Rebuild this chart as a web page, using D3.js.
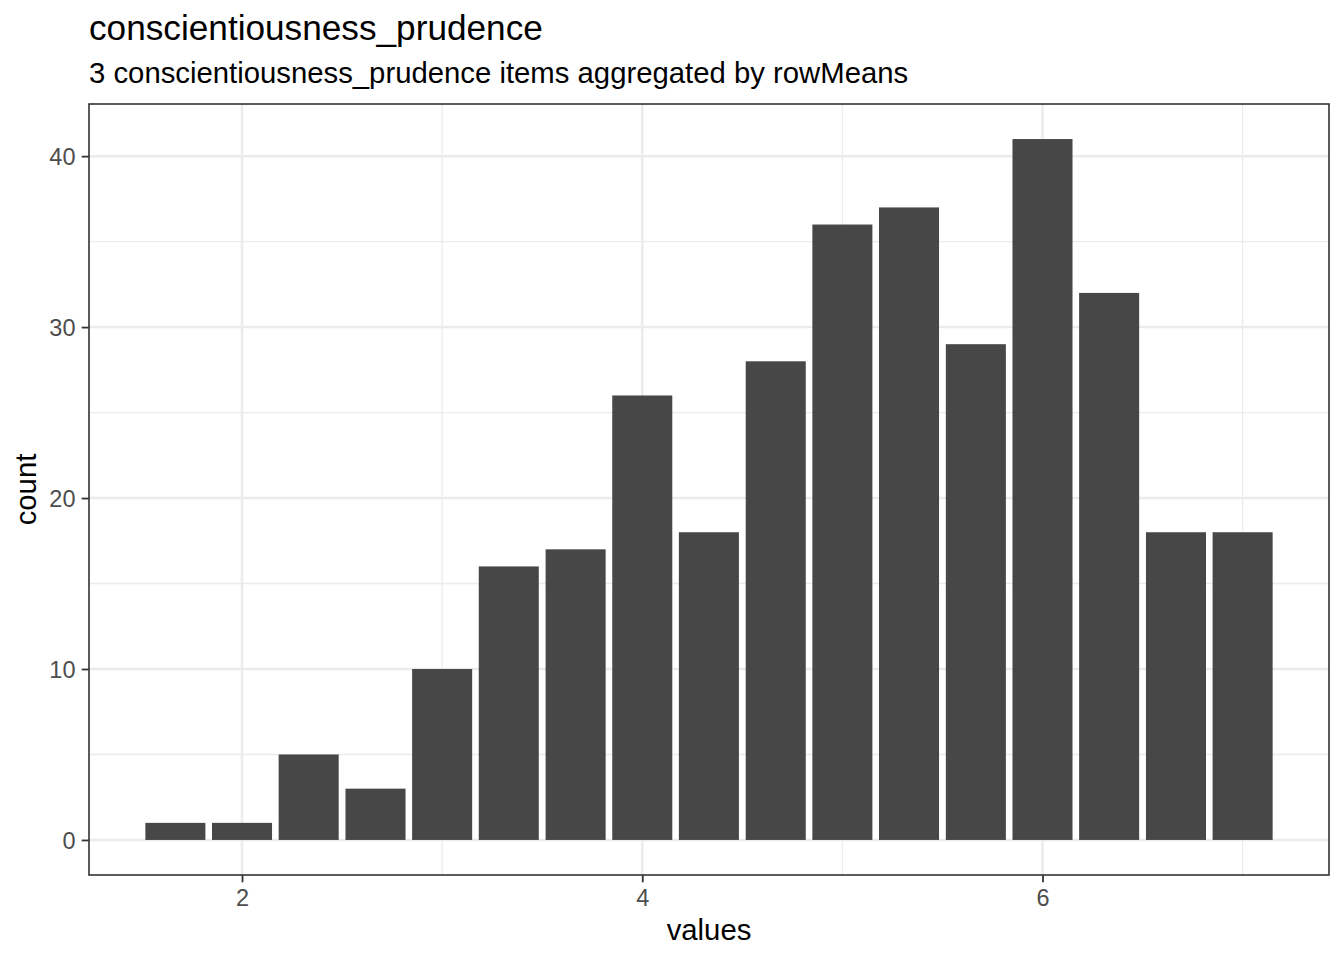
<!DOCTYPE html>
<html>
<head>
<meta charset="utf-8">
<script src="https://cdn.jsdelivr.net/npm/d3@7"></script>
<style>
  html, body { margin: 0; padding: 0; background: #ffffff; }
  svg { display: block; font-family: "Liberation Sans", Arial, Helvetica, sans-serif; }
</style>
</head>
<body>
<svg id="chart" width="1344" height="960"></svg>
<script>
// ---- data ----
const binCenters = [1.667, 2, 2.333, 2.667, 3, 3.333, 3.667, 4, 4.333, 4.667, 5, 5.333, 5.667, 6, 6.333, 6.667, 7];
const counts     = [1, 1, 5, 3, 10, 16, 17, 26, 18, 28, 36, 37, 29, 41, 32, 18, 18];
const xTicks = [2, 4, 6];
const xMinorTicks = [1, 3, 5, 7];
const yTicks = [0, 10, 20, 30, 40];
const yMinorTicks = [5, 15, 25, 35];
const titleText = "conscientiousness_prudence";
const subtitleText = "3 conscientiousness_prudence items aggregated by rowMeans";
const xLabel = "values";
const yLabel = "count";

// ---- layout ----
const W = 1344, H = 960;
const panel = { left: 89, right: 1329, top: 104, bottom: 875 };
const binWidth = 1 / 3;
const barWidth = binWidth * 0.9;

const svg = d3.select("#chart");
svg.append("rect").attr("width", W).attr("height", H).attr("fill", "#ffffff");

// scales with ggplot-like 5% expansion
const xmin = d3.min(binCenters) - barWidth / 2;
const xmax = d3.max(binCenters) + barWidth / 2;
const xr = xmax - xmin;
const x = d3.scaleLinear()
  .domain([xmin - 0.05 * xr, xmax + 0.05 * xr])
  .range([panel.left, panel.right]);

const ymax = d3.max(counts);
const y = d3.scaleLinear()
  .domain([-0.05 * ymax, ymax * 1.05])
  .range([panel.bottom, panel.top]);

const g = svg.append("g");

// panel background
g.append("rect")
  .attr("x", panel.left).attr("y", panel.top)
  .attr("width", panel.right - panel.left).attr("height", panel.bottom - panel.top)
  .attr("fill", "#ffffff");

// minor grid
g.selectAll("line.xminor").data(xMinorTicks.filter(v => x(v) > panel.left && x(v) < panel.right)).join("line")
  .attr("x1", d => x(d)).attr("x2", d => x(d))
  .attr("y1", panel.top).attr("y2", panel.bottom)
  .attr("stroke", "#EBEBEB").attr("stroke-width", 1.3);
g.selectAll("line.yminor").data(yMinorTicks).join("line")
  .attr("y1", d => y(d)).attr("y2", d => y(d))
  .attr("x1", panel.left).attr("x2", panel.right)
  .attr("stroke", "#EBEBEB").attr("stroke-width", 1.3);

// major grid
g.append("g").selectAll("line").data(xTicks).join("line")
  .attr("x1", d => x(d)).attr("x2", d => x(d))
  .attr("y1", panel.top).attr("y2", panel.bottom)
  .attr("stroke", "#EBEBEB").attr("stroke-width", 2.5);
g.append("g").selectAll("line").data(yTicks).join("line")
  .attr("y1", d => y(d)).attr("y2", d => y(d))
  .attr("x1", panel.left).attr("x2", panel.right)
  .attr("stroke", "#EBEBEB").attr("stroke-width", 2.5);

// bars
g.append("g").selectAll("rect").data(binCenters.map((c, i) => ({ c, n: counts[i] }))).join("rect")
  .attr("x", d => x(d.c - barWidth / 2))
  .attr("width", d => x(d.c + barWidth / 2) - x(d.c - barWidth / 2))
  .attr("y", d => y(d.n))
  .attr("height", d => y(0) - y(d.n))
  .attr("fill", "#474747");

// panel border
g.append("rect")
  .attr("x", panel.left).attr("y", panel.top)
  .attr("width", panel.right - panel.left).attr("height", panel.bottom - panel.top)
  .attr("fill", "none").attr("stroke", "#333333").attr("stroke-width", 1.6);

// axes
const xAxis = d3.axisBottom(x).tickValues(xTicks).tickSize(7.3).tickPadding(6).tickFormat(d3.format("d"));
const xg = svg.append("g").attr("transform", `translate(0,${panel.bottom})`).call(xAxis);
xg.select(".domain").remove();
xg.selectAll(".tick line").attr("stroke", "#333333").attr("stroke-width", 1.8);
xg.selectAll(".tick text")
  .attr("fill", "#4D4D4D")
  .attr("font-size", "23.5px")
  .attr("font-family", "'Liberation Sans', Arial, Helvetica, sans-serif")
  .attr("dy", null).attr("y", 30.5);

const yAxis = d3.axisLeft(y).tickValues(yTicks).tickSize(7.3).tickPadding(6).tickFormat(d3.format("d"));
const yg = svg.append("g").attr("transform", `translate(${panel.left},0)`).call(yAxis);
yg.select(".domain").remove();
yg.selectAll(".tick line").attr("stroke", "#333333").attr("stroke-width", 1.8);
yg.selectAll(".tick text")
  .attr("fill", "#4D4D4D")
  .attr("font-size", "23.5px")
  .attr("font-family", "'Liberation Sans', Arial, Helvetica, sans-serif")
  .attr("x", -13.5)
  .attr("dy", "0.36em");

// titles
svg.append("text")
  .attr("x", panel.left).attr("y", 40)
  .attr("font-size", "35.2px").attr("fill", "#000000")
  .text(titleText);
svg.append("text")
  .attr("x", panel.left).attr("y", 83)
  .attr("font-size", "29.3px").attr("fill", "#000000")
  .text(subtitleText);

// axis labels
svg.append("text")
  .attr("x", (panel.left + panel.right) / 2).attr("y", 940)
  .attr("text-anchor", "middle")
  .attr("font-size", "29.3px").attr("fill", "#000000")
  .text(xLabel);
svg.append("text")
  .attr("transform", `translate(36,${(panel.top + panel.bottom) / 2}) rotate(-90)`)
  .attr("text-anchor", "middle")
  .attr("font-size", "29.3px").attr("fill", "#000000")
  .text(yLabel);
</script>
</body>
</html>
